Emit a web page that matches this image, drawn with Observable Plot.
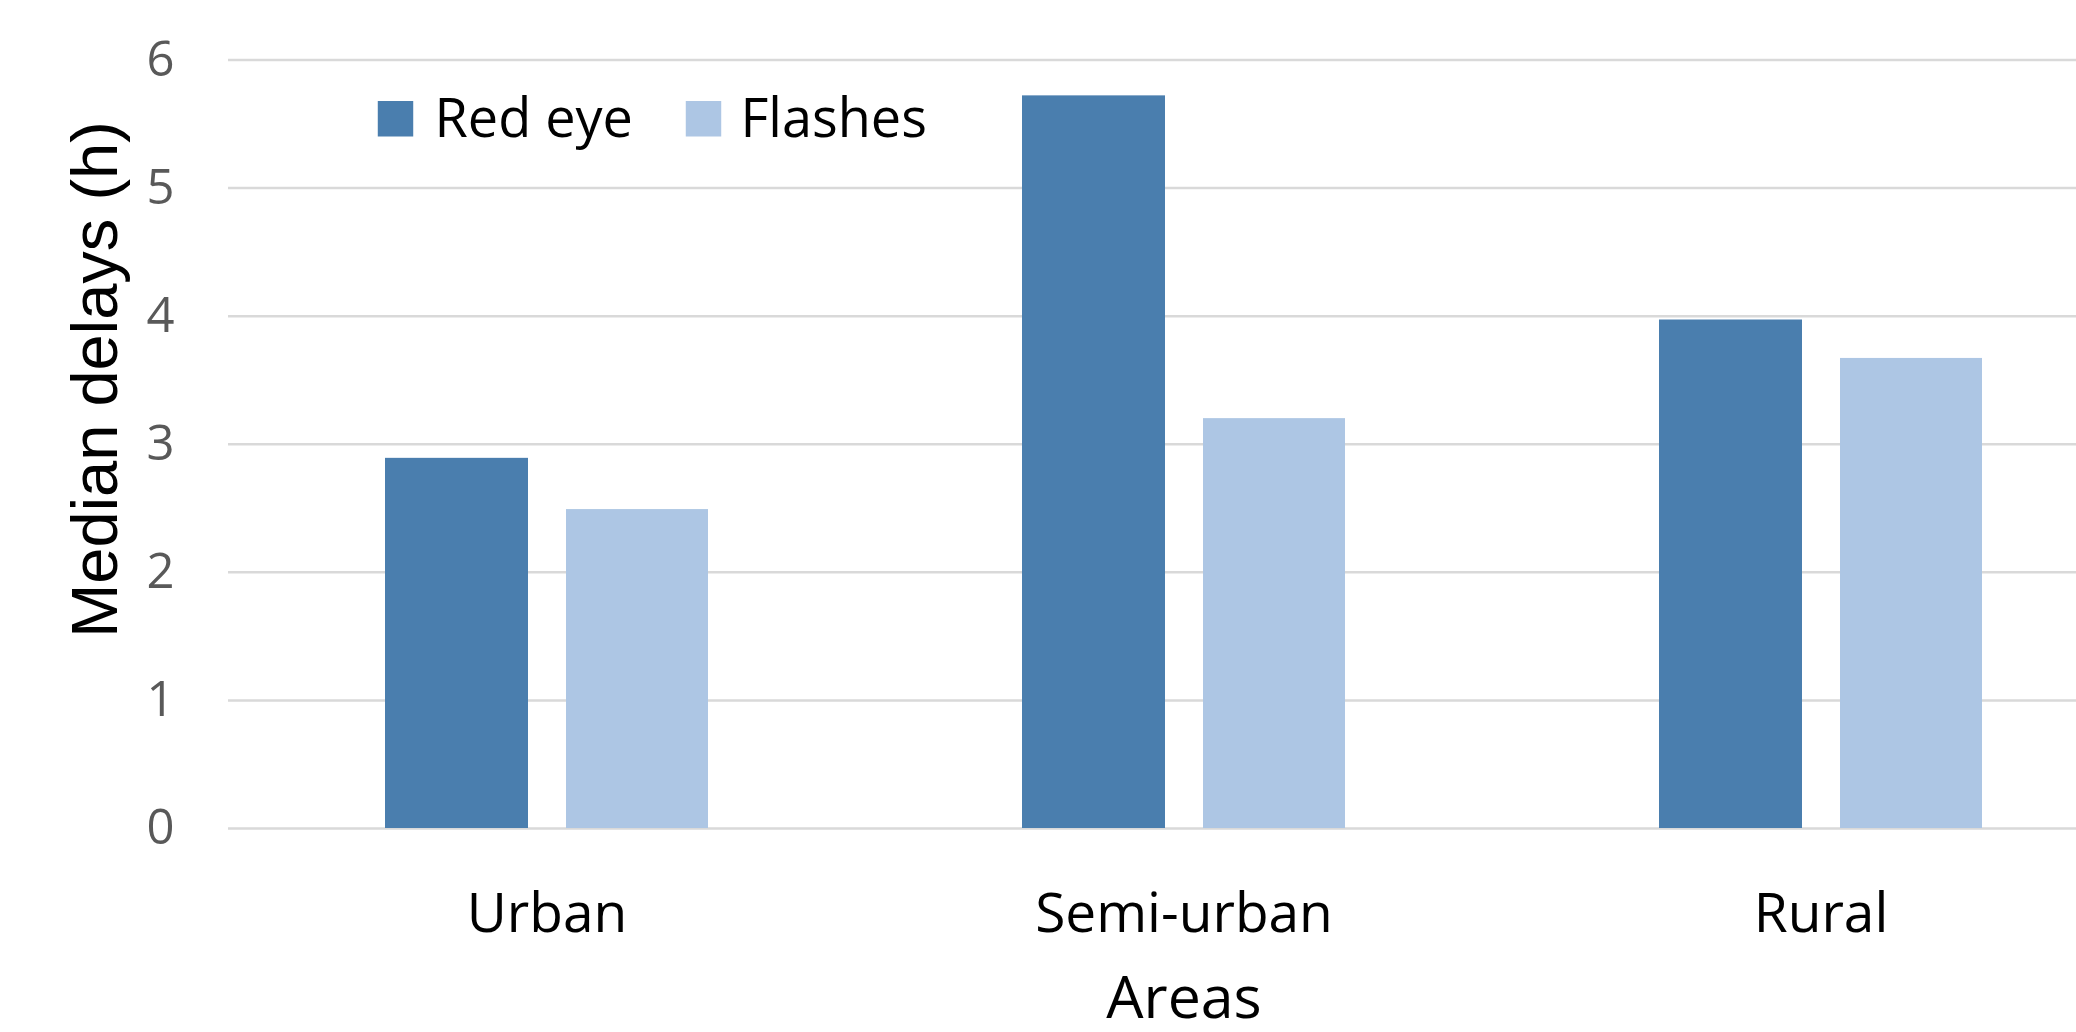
<!DOCTYPE html>
<html>
<head>
<meta charset="utf-8">
<script src="https://cdn.jsdelivr.net/npm/d3@7"></script>
<script src="https://cdn.jsdelivr.net/npm/@observablehq/plot@0.6"></script>
<style>
  html, body { margin: 0; padding: 0; background: #fff; overflow: hidden; }
  #chart svg { display: block; }
</style>
</head>
<body>
<div id="chart"></div>
<script>
// ---- data ----
const categories = ["Urban", "Semi-urban", "Rural"];
const seriesNames = ["Red eye", "Flashes"];
const redEye = [2.89, 5.72, 3.97];
const flashes = [2.49, 3.20, 3.67];
const yTicks = [0, 1, 2, 3, 4, 5, 6];
const colors = ["#4a7eae", "#adc6e4"];
const xTitle = "Areas";
const yTitle = "Median delays (h)";

const redRows = categories.map((c, i) => ({area: c, series: seriesNames[0], value: redEye[i]}));
const flashRows = categories.map((c, i) => ({area: c, series: seriesNames[1], value: flashes[i]}));

const W = 2076, H = 1032;
const mL = 228, mR = 0, mT = 59.5, mB = 204;
const cx = (mL + W - mR) / 2, cy = (mT + H - mB) / 2;

const chart = Plot.plot({
  width: W,
  height: H,
  marginLeft: mL,
  marginRight: mR,
  marginTop: mT,
  marginBottom: mB,
  style: {background: "#fff", overflow: "visible"},
  x: {domain: categories, range: [228, 2139], paddingInner: 0.493, paddingOuter: 0.2465, label: null},
  y: {domain: [0, 6], label: null},
  marks: [
    Plot.ruleY(yTicks, {stroke: "#d9d9d9", strokeWidth: 2.5}),
    Plot.barY(redRows, {x: "area", y: "value", fill: colors[0], insetRight: 180}),
    Plot.barY(flashRows, {x: "area", y: "value", fill: colors[1], insetLeft: 181}),
    Plot.axisY({ticks: yTicks, tickSize: 0, tickPadding: 54, label: null,
      fontSize: 49, fontFamily: "Open Sans", fill: "#595959", tickFormat: d => String(d)}),
    Plot.axisX({tickSize: 0, tickPadding: 64, label: null,
      fontSize: 55, fontFamily: "Open Sans", fill: "#000"}),
    // axis titles
    Plot.text([xTitle], {frameAnchor: "middle", text: d => d, dx: 1183.5 - cx, dy: 1017 - cy,
      lineAnchor: "bottom", fontSize: 59, fontFamily: "Open Sans", fill: "#000"}),
    Plot.text([yTitle], {frameAnchor: "middle", text: d => d, rotate: -90, dx: 116 - cx, dy: 379 - cy,
      lineAnchor: "bottom", fontSize: 65, fontFamily: "Liberation Sans", fill: "#000"}),
    // legend
    Plot.dot([seriesNames[0]], {frameAnchor: "middle", symbol: "square", r: 20, fill: colors[0], stroke: null,
      dx: 395 - cx, dy: 118.3 - cy}),
    Plot.dot([seriesNames[1]], {frameAnchor: "middle", symbol: "square", r: 20, fill: colors[1], stroke: null,
      dx: 703 - cx, dy: 118.3 - cy}),
    Plot.text([seriesNames[0]], {frameAnchor: "middle", text: d => d, textAnchor: "start", lineAnchor: "bottom",
      dx: 434 - cx, dy: 136 - cy, fontSize: 54, fontFamily: "Open Sans", fill: "#000"}),
    Plot.text([seriesNames[1]], {frameAnchor: "middle", text: d => d, textAnchor: "start", lineAnchor: "bottom",
      dx: 740 - cx, dy: 136 - cy, fontSize: 54, fontFamily: "Open Sans", fill: "#000"})
  ]
});
document.getElementById("chart").appendChild(chart);
</script>
</body>
</html>
